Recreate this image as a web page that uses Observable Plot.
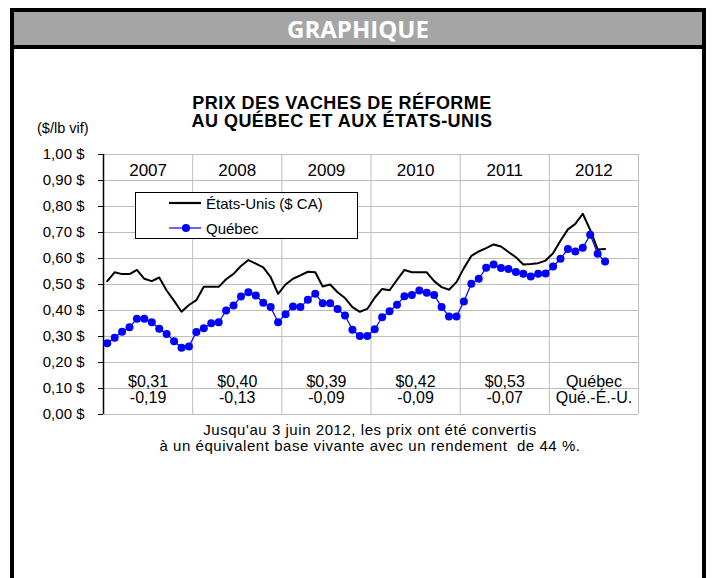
<!DOCTYPE html>
<html>
<head>
<meta charset="utf-8">
<script src="https://cdn.jsdelivr.net/npm/d3@7"></script>
<script src="https://cdn.jsdelivr.net/npm/@observablehq/plot@0.6"></script>
<style>
  html, body { margin: 0; padding: 0; background: #fff; }
  #page { position: relative; width: 714px; height: 578px; overflow: hidden; font-family: "Liberation Sans", Arial, sans-serif; color: #000; }
  #page > svg { position: absolute; left: 0; top: 0; }
  #frame { position: absolute; left: 10px; top: 8px; width: 696px; height: 620px; border: 4px solid #000; box-sizing: border-box; z-index: 5; pointer-events: none; }
  #header { position: absolute; left: 14px; top: 12px; width: 688px; height: 37px; background: #a5a5a5; border-bottom: 4px solid #000; box-sizing: border-box; z-index: 6;
            color: #fff; font-family: "Open Sans", Lato, sans-serif; font-weight: 700; font-size: 24px; text-align: center; line-height: 34px; }
  .title { position: absolute; left: 0; width: 684px; text-align: center; font-weight: 700; font-size: 18px; letter-spacing: 0.45px; z-index: 4; }
  #unit { position: absolute; left: 37px; top: 120px; font-size: 14.5px; z-index: 4; }
  #legend { position: absolute; left: 135px; top: 192px; width: 223px; height: 47px; border: 1.5px solid #000; background: #fff; box-sizing: border-box; z-index: 4; }
  #legend .lg-item { position: absolute; left: 0; height: 20px; width: 220px; }
  #legend .lg-item svg { position: absolute; left: 33px; top: 0; }
  #legend .lg-item span { position: absolute; left: 70px; top: 1px; font-size: 15px; white-space: nowrap; }
  .note { position: absolute; left: 0; width: 740px; text-align: center; font-size: 15px; letter-spacing: 0.55px; z-index: 4; }
</style>
</head>
<body>
<div id="page">
  <div id="frame"></div>
  <div id="header">GRAPHIQUE</div>
  <div class="title" style="top:93px">PRIX DES VACHES DE RÉFORME</div>
  <div class="title" style="top:111px">AU QUÉBEC ET AUX ÉTATS-UNIS</div>
  <div id="unit">($/lb vif)</div>
  <div id="legend"></div>
  <div class="note" style="top:421px">Jusqu'au 3 juin 2012, les prix ont été convertis</div>
  <div class="note" style="top:437px">à un équivalent base vivante avec un rendement&nbsp; de 44 %.</div>
</div>
<script>
// ---- Data ----
const years = ["2007", "2008", "2009", "2010", "2011", "2012"];

// Monthly price, États-Unis ($ CA / lb vif), Jan 2007 – Aug 2012
const usPrices = [
  0.513, 0.547, 0.540, 0.540, 0.556, 0.522, 0.513, 0.527, 0.477, 0.437, 0.395, 0.421,
  0.440, 0.491, 0.491, 0.491, 0.520, 0.541, 0.571, 0.594, 0.580, 0.566, 0.528, 0.464,
  0.500, 0.522, 0.535, 0.549, 0.547, 0.492, 0.500, 0.470, 0.448, 0.413, 0.395, 0.406,
  0.449, 0.483, 0.478, 0.518, 0.556, 0.547, 0.547, 0.547, 0.513, 0.490, 0.480, 0.509,
  0.563, 0.610, 0.627, 0.640, 0.654, 0.646, 0.625, 0.605, 0.577, 0.579, 0.582, 0.592,
  0.620, 0.668, 0.712, 0.733, 0.772, 0.710, 0.635, 0.637
];

// Monthly price, Québec ($ / lb vif), Jan 2007 – Aug 2012
const quebecPrices = [
  0.274, 0.295, 0.318, 0.336, 0.368, 0.368, 0.355, 0.330, 0.310, 0.282, 0.257, 0.262,
  0.317, 0.332, 0.351, 0.355, 0.400, 0.419, 0.454, 0.470, 0.458, 0.430, 0.413, 0.355,
  0.386, 0.415, 0.413, 0.441, 0.464, 0.428, 0.428, 0.406, 0.381, 0.326, 0.302, 0.302,
  0.328, 0.374, 0.397, 0.422, 0.455, 0.460, 0.477, 0.468, 0.460, 0.413, 0.377, 0.377,
  0.435, 0.503, 0.522, 0.564, 0.577, 0.563, 0.560, 0.548, 0.541, 0.531, 0.541, 0.542,
  0.569, 0.599, 0.637, 0.627, 0.641, 0.691, 0.618, 0.588
];

// Annual annotations inside the chart
const quebecAverage = ["$0,31", "$0,40", "$0,39", "$0,42", "$0,53", "Québec"];
const gapQcUs = ["-0,19", "-0,13", "-0,09", "-0,09", "-0,07", "Qué.-É.-U."];

const seriesNames = ["États-Unis ($ CA)", "Québec"];
const seriesColors = ["#000000", "#0000ff"];

// ---- Build tables ----
const monthsPerYear = 12;
const us = usPrices.map((v, i) => ({m: i + 0.5, v}));
const qc = quebecPrices.map((v, i) => ({m: i + 0.5, v}));
const yearRows = years.map((y, i) => ({
  year: y, mid: i * monthsPerYear + monthsPerYear / 2, end: (i + 1) * monthsPerYear,
  avg: quebecAverage[i], gap: gapQcUs[i]
}));
const yTicks = d3.range(0, 11).map(k => k / 10);
const fmt = d => d.toFixed(2).replace(".", ",") + " $";

const chart = Plot.plot({
  width: 714,
  height: 578,
  marginLeft: 103,
  marginRight: 76,
  marginTop: 154,
  marginBottom: 164,
  style: {background: "transparent", fontFamily: "'Liberation Sans', Arial, sans-serif", fontSize: "15px", color: "#000"},
  x: {domain: [0, years.length * monthsPerYear], axis: null},
  y: {domain: [0, 1], ticks: 10, tickFormat: fmt, tickSize: 5, tickPadding: 14, label: null, line: true},
  marks: [
    Plot.ruleY(yTicks, {stroke: "#bdbdbd", strokeWidth: 1}),
    Plot.ruleX(yearRows, {x: "end", y1: 0, y2: 1, stroke: "#bdbdbd", strokeWidth: 1}),
    Plot.ruleX([0], {y1: 0, y2: 1, stroke: "#000", strokeWidth: 1.5}),
    Plot.text(yearRows, {x: "mid", y: 0.94, text: "year", fontSize: 17, fill: "#000"}),
    Plot.text(yearRows, {x: "mid", y: 0.127, text: "avg", fontSize: 16, fill: "#000"}),
    Plot.text(yearRows, {x: "mid", y: 0.063, text: "gap", fontSize: 16, fill: "#000"}),
    Plot.line(us, {x: "m", y: "v", stroke: seriesColors[0], strokeWidth: 2}),
    Plot.line(qc, {x: "m", y: "v", stroke: seriesColors[1], strokeWidth: 1.2}),
    Plot.dot(qc, {x: "m", y: "v", r: 4, fill: seriesColors[1], stroke: "none"})
  ]
});
document.getElementById("page").appendChild(chart);

// ---- Legend ----
const legend = document.getElementById("legend");
seriesNames.forEach((name, i) => {
  const item = document.createElement("div");
  item.className = "lg-item";
  item.style.top = (i === 0 ? 1 : 26) + "px";
  const sw = i === 0
    ? `<svg width="34" height="20"><line x1="0" x2="32" y1="9" y2="9" stroke="${seriesColors[0]}" stroke-width="2.2"/></svg>`
    : `<svg width="34" height="20"><line x1="0" x2="32" y1="9" y2="9" stroke="${seriesColors[1]}" stroke-width="1.2"/><circle cx="17" cy="9" r="4" fill="${seriesColors[1]}"/></svg>`;
  item.innerHTML = sw + `<span>${name}</span>`;
  legend.appendChild(item);
});
</script>
</body>
</html>
